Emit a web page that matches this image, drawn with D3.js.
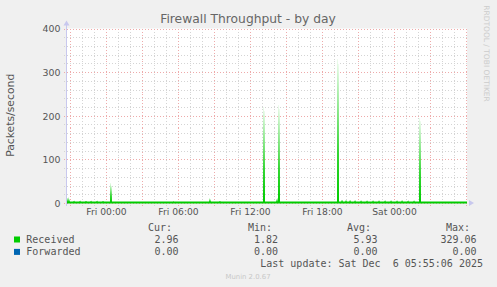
<!DOCTYPE html>
<html>
<head>
<meta charset="utf-8">
<script src="https://cdn.jsdelivr.net/npm/d3@7"></script>
<style>
  html, body { margin: 0; padding: 0; background: #f0f0f0; }
  svg { display: block; }
</style>
</head>
<body>
<svg id="chart" width="497" height="287"></svg>
<script>
// ---------- data ----------
const startTime = "2025-12-04T20:45:00Z";   // 5-minute samples, 400 points
const stepMinutes = 5;
const received = [
  12.5, 13, 9, 4, 2.6, 2.4, 5.5, 5.8, 2.7, 2.5, 2.6, 2.4, 5.4, 5.9, 2.6, 2.5, 2.7, 2.5, 5.6, 5.7,
  2.6, 2.4, 2.5, 5.2, 5.8, 2.7, 2.5, 2.6, 2.4, 5.5, 5.9, 2.6, 2.5, 2.7, 2.4, 5.3, 5.6, 2.6, 2.5, 2.4,
  2.6, 2.5, 4.2, 46, 40, 3.5, 2.6, 2.4, 2.5, 2.3, 2.6, 2.4, 2.5, 2.7, 2.4, 2.2, 2.5, 2.6, 2.3, 2.4,
  2.5, 2.3, 2.6, 2.4, 2.2, 2.5, 2.7, 2.4, 2.3, 2.5, 2.4, 2.6, 2.3, 2.2, 2.5, 2.4, 2.6, 2.3, 2.5, 2.4,
  2.3, 2.5, 2.4, 2.2, 2.6, 2.4, 2.5, 2.3, 2.1, 2.4, 2.5, 2.3, 2.6, 2.4, 2.2, 2.5, 2.3, 2.4, 2.6, 2.3,
  2.4, 2.2, 2.5, 2.3, 2.4, 2.6, 4.8, 3.5, 2.4, 2.3, 2.5, 2.2, 2.4, 2.6, 2.3, 2.1, 2.4, 2.5, 2.2, 2.3,
  2.4, 2.2, 2.5, 2.3, 2.1, 2.4, 2.6, 2.3, 2.2, 2.4, 2.5, 2.3, 2.2, 2.4, 2.1, 2.3, 2.5, 2.2, 2.4, 2.3,
  2.5, 2.6, 11, 9, 2.8, 2.4, 2.3, 2.5, 2.2, 2.4, 2.6, 4.2, 5.5, 4.8, 2.6, 2.3, 2.4, 2.2, 2.5, 2.3,
  2.2, 2.4, 2.3, 2.1, 2.4, 2.5, 2.2, 2.3, 2.4, 1.9, 2.2, 2.4, 2.3, 2.5, 2.2, 2.1, 2.4, 2.3, 2.2, 2.4,
  2.3, 2.1, 2.4, 2.2, 2.5, 2.3, 2.2, 2.4, 2.1, 2.3, 2.4, 2.2, 2.5, 2.3, 2.6, 3.1, 220, 212, 3.2, 2.5,
  2.4, 2.3, 2.5, 2.2, 2.4, 2.6, 2.3, 2.5, 3.2, 9.5, 12, 224, 215, 3.4, 2.5, 2.4, 2.2, 2.3, 2.5, 2.4,
  2.3, 2.2, 2.4, 2.1, 2.3, 2.5, 2.2, 2.4, 2.3, 1.82, 2.2, 2.4, 2.3, 2.5, 2.2, 2.1, 2.4, 2.3, 2.2, 2.4,
  2.3, 2.5, 2.2, 2.4, 2.6, 4.5, 3.2, 2.4, 2.3, 2.5, 2.2, 2.4, 2.3, 2.1, 2.4, 2.5, 2.3, 2.2, 2.4, 2.3,
  2.5, 2.2, 2.4, 2.3, 2.6, 2.4, 2.5, 2.7, 3.0, 3.6, 329.06, 318, 4.5, 3.2, 7.5, 8, 4.2, 3.4, 6.8, 7.2,
  3.6, 3.3, 6.5, 7.4, 3.5, 3.4, 3.2, 6.2, 6.8, 3.4, 3.2, 3.6, 3.3, 5.9, 6.4, 3.3, 3.2, 3.4, 3.1, 5.8,
  6.2, 3.2, 3.4, 3.3, 3.1, 5.9, 6.3, 3.4, 3.2, 3.3, 3.1, 6.1, 6.4, 3.3, 3.2, 3.4, 3.1, 5.8, 6.6, 3.2,
  3.4, 3.3, 3.1, 6.0, 6.5, 3.3, 3.2, 3.4, 3.1, 5.9, 6.3, 3.2, 3.4, 3.3, 6.2, 6.9, 3.4, 3.2, 3.3, 3.1,
  5.7, 6.4, 3.3, 3.2, 3.4, 3.1, 5.8, 6.2, 3.2, 3.4, 2.8, 3.5, 195, 188, 3.1, 2.9, 2.8, 3.0, 2.7, 2.9,
  2.8, 3.0, 2.7, 2.9, 2.8, 3.1, 2.7, 2.9, 2.8, 3.0, 2.7, 2.9, 2.8, 3.0, 2.9, 2.7, 2.8, 3.0, 2.9, 2.7,
  2.9, 2.8, 3.0, 2.7, 2.9, 2.8, 3.0, 2.9, 2.7, 2.8, 3.0, 2.9, 2.8, 2.7, 3.0, 2.9, 2.8, 3.0, 2.9, 2.96
];
const yTickValues = [0, 100, 200, 300, 400];
const seriesNames = ["Received", "Forwarded"];
const seriesColors = ["#00cc00", "#0066b3"];
const statHeaders = ["Cur:", "Min:", "Avg:", "Max:"];
const receivedStats = ["2.96", "1.82", "5.93", "329.06"];
const forwardedStats = ["0.00", "0.00", "0.00", "0.00"];
const titleText = "Firewall Throughput - by day";
const yLabelText = "Packets/second";
const lastUpdateText = "Last update: Sat Dec  6 05:55:06 2025";
const footerText = "Munin 2.0.67";
const sideText = "RRDTOOL / TOBI OETIKER";

// ---------- layout ----------
const svg = d3.select("#chart");
const plot = { left: 67, right: 467, top: 28.5, bottom: 203 };

const t0 = new Date(startTime);
const points = received.map((v, i) => ({
  t: new Date(t0.getTime() + i * stepMinutes * 60000),
  t2: new Date(t0.getTime() + (i + 1) * stepMinutes * 60000),
  v
}));
const tEnd = new Date(t0.getTime() + received.length * stepMinutes * 60000);

const x = d3.scaleUtc().domain([t0, tEnd]).range([plot.left, plot.right]);
const y = d3.scaleLinear().domain([0, 400]).range([plot.bottom, plot.top]);

const textColor = "#555";
const sansFont = "DejaVu Sans, sans-serif";
const monoFont = "DejaVu Sans Mono, monospace";

// plot background
svg.append("rect").attr("x", plot.left).attr("y", plot.top)
  .attr("width", plot.right - plot.left).attr("height", plot.bottom - plot.top)
  .attr("fill", "#ffffff");

// ---------- grid ----------
const minorColor = "#d4d4d4", majorColor = "#eeaaaa", dash = "1,2";
const grid = svg.append("g").attr("shape-rendering", "crispEdges");
const minorY = y.ticks(20).filter(d => d % 100 !== 0);
grid.selectAll(".hmin").data(minorY).enter().append("line")
  .attr("x1", plot.left - 3).attr("x2", plot.right + 2)
  .attr("y1", d => Math.round(y(d)) + 0.5).attr("y2", d => Math.round(y(d)) + 0.5)
  .attr("stroke", minorColor).attr("stroke-dasharray", dash);
const minorX = x.ticks(d3.utcHour.every(1)).filter(d => d.getUTCHours() % 3 !== 0);
grid.selectAll(".vmin").data(minorX).enter().append("line")
  .attr("y1", plot.top).attr("y2", plot.bottom + 3)
  .attr("x1", d => Math.round(x(d)) + 0.5).attr("x2", d => Math.round(x(d)) + 0.5)
  .attr("stroke", minorColor).attr("stroke-dasharray", dash);
grid.selectAll(".hmaj").data(yTickValues).enter().append("line")
  .attr("x1", plot.left - 3).attr("x2", plot.right + 2)
  .attr("y1", d => Math.round(y(d)) + 0.5).attr("y2", d => Math.round(y(d)) + 0.5)
  .attr("stroke", majorColor).attr("stroke-dasharray", dash);
const majorX = x.ticks(d3.utcHour.every(3));
grid.selectAll(".vmaj").data(majorX).enter().append("line")
  .attr("y1", plot.top).attr("y2", plot.bottom + 3)
  .attr("x1", d => Math.round(x(d)) + 0.5).attr("x2", d => Math.round(x(d)) + 0.5)
  .attr("stroke", majorColor).attr("stroke-dasharray", dash);

// ---------- series ----------
const defs = svg.append("defs");
const grad = defs.append("linearGradient").attr("id", "recvGrad")
  .attr("x1", 0).attr("y1", 1).attr("x2", 0).attr("y2", 0);
grad.append("stop").attr("offset", "0%").attr("stop-color", "#00cc00");
grad.append("stop").attr("offset", "35%").attr("stop-color", "#33d633");
grad.append("stop").attr("offset", "100%").attr("stop-color", "#effcef");

svg.append("g").selectAll("rect").data(points.filter(p => y(0) - y(p.v) > 2)).enter().append("rect")
  .attr("x", d => x(d.t))
  .attr("width", d => x(d.t2) - x(d.t))
  .attr("y", d => y(d.v))
  .attr("height", d => y(0) - y(d.v))
  .attr("fill", "url(#recvGrad)")
  .attr("shape-rendering", "crispEdges");

// baseline band of the received area (low values)
const line = d3.line().x(d => x(d.t)).y(() => y(0) - 0.5).curve(d3.curveStepAfter);
svg.append("path").datum(points.concat([{ t: tEnd, v: received[received.length - 1] }]))
  .attr("d", line).attr("fill", "none").attr("stroke", seriesColors[0]).attr("stroke-width", 2);

// ---------- axes lines & arrows ----------
const axisColor = "#c8c8ee";
svg.append("line").attr("x1", plot.left - 0.5).attr("x2", plot.left - 0.5)
  .attr("y1", plot.bottom + 3).attr("y2", plot.top - 4)
  .attr("stroke", axisColor).attr("shape-rendering", "crispEdges");
svg.append("path").attr("d", `M${plot.left - 3.5},${plot.top - 3} L${plot.left - 0.5},${plot.top - 8} L${plot.left + 2.5},${plot.top - 3} Z`)
  .attr("fill", axisColor);
svg.append("path").attr("d", `M${plot.right + 2},${plot.bottom - 3} L${plot.right + 7},${plot.bottom} L${plot.right + 2},${plot.bottom + 3} Z`)
  .attr("fill", axisColor);

// ---------- tick labels via d3 axes ----------
const yAxis = d3.axisLeft(y).tickValues(yTickValues).tickSize(0).tickPadding(0).tickFormat(d3.format("d"));
const gy = svg.append("g").attr("transform", `translate(${plot.left - 6.5},0)`).call(yAxis);
gy.select(".domain").remove();
gy.selectAll("text").attr("font-family", sansFont).attr("font-size", "9.4px")
  .attr("fill", textColor).attr("dy", "0.36em");

const xLabelTicks = x.ticks(d3.utcHour.every(6)).filter(d => x(d) < plot.right - 30);
const xAxis = d3.axisBottom(x).tickValues(xLabelTicks).tickSize(0).tickPadding(0)
  .tickFormat(d3.utcFormat("%a %H:%M"));
const gx = svg.append("g").attr("transform", `translate(0,${plot.bottom + 12})`).call(xAxis);
gx.select(".domain").remove();
gx.selectAll("text").attr("font-family", sansFont).attr("font-size", "9.2px")
  .attr("fill", textColor).attr("dy", 0).attr("y", 0);

// ---------- titles ----------
svg.append("text").attr("x", 248).attr("y", 23).attr("text-anchor", "middle")
  .attr("font-family", sansFont).attr("font-size", "12.3px").attr("fill", "#666")
  .text(titleText);
svg.append("text").attr("transform", "translate(14.3,115.3) rotate(-90)").attr("text-anchor", "middle")
  .attr("font-family", sansFont).attr("font-size", "10.8px").attr("fill", textColor)
  .text(yLabelText);
svg.append("text").attr("transform", "translate(484.3,53.5) rotate(90)").attr("text-anchor", "middle")
  .attr("font-family", sansFont).attr("font-size", "7.5px").attr("fill", "#cccccc")
  .text(sideText);

// ---------- legend ----------
const headerX = [172, 272, 371, 470];
const valueX = [178.5, 278, 377.5, 476.5];
const legend = svg.append("g").attr("font-family", monoFont).attr("font-size", "10px").attr("fill", textColor);
legend.selectAll(".hdr").data(statHeaders).enter().append("text")
  .attr("x", (d, i) => headerX[i]).attr("y", 230.6).attr("text-anchor", "end").text(d => d);

const rows = [receivedStats, forwardedStats];
const rowY = [243, 255.4];
rows.forEach((stats, r) => {
  legend.append("rect").attr("x", 14).attr("y", rowY[r] - 6.5).attr("width", 6).attr("height", 6)
    .attr("fill", seriesColors[r]);
  legend.append("text").attr("x", 26.3).attr("y", rowY[r]).text(seriesNames[r]);
  legend.selectAll(".v" + r).data(stats).enter().append("text")
    .attr("x", (d, i) => valueX[i]).attr("y", rowY[r]).attr("text-anchor", "end").text(d => d);
});
legend.append("text").attr("x", 483).attr("y", 267).attr("text-anchor", "end")
  .attr("xml:space", "preserve").style("white-space", "pre").text(lastUpdateText);

svg.append("text").attr("x", 248).attr("y", 278.5).attr("text-anchor", "middle")
  .attr("font-family", sansFont).attr("font-size", "6.9px").attr("fill", "#c8c8c8")
  .text(footerText);
</script>
</body>
</html>
